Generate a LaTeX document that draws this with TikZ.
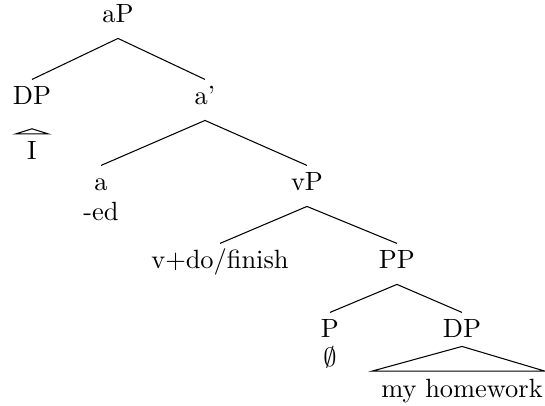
\documentclass[tikz,border=0pt]{standalone}
\usepackage{amsmath}
\usepackage{amssymb}
\usepackage{tikz}

\begin{document}
\begin{tikzpicture}[
        yscale=1.0, xscale=1.0,
        cat/.style={anchor=base, inner xsep=1pt, inner ysep=2.65pt, text height=6.83pt, text depth=3pt},
        word/.style={anchor=base, inner sep=1pt},
        branch/.style={line width=0.4pt},
        roof/.style={line width=0.4pt}
    ]
    \useasboundingbox (0,0) rectangle (7.256,5.405);

    % Categories
    \node[cat] (ap)   at (1.571, 5.099) {aP};
    \node[cat] (dpa)  at (0.426, 4.007) {DP};
    \node[cat] (abar) at (2.729, 4.007) {a'};
    \node[cat] (a)    at (1.345, 2.862) {a};
    \node[cat] (vp)   at (4.087, 2.862) {vP};
    \node[cat] (v)    at (2.929, 1.824) {v+do/finish};
    \node[cat] (pp)   at (5.285, 1.824) {PP};
    \node[cat] (p)    at (4.393, 0.905) {P};
    \node[cat] (dpb)  at (6.151, 0.905) {DP};

    % Words under the heads
    \node[word] (i)    at (0.426, 3.288) {I};
    \node[word] (ed)   at (1.345, 2.463) {-ed};
    \node[word] (null) at (4.393, 0.519) {$\emptyset$};
    \node[word] (hw)   at (6.151, 0.107) {my homework};

    % Branches
    \draw[branch] (ap.south) -- (dpa.north);
    \draw[branch] (ap.south) -- (abar.north);
    \draw[branch] (abar.south) -- (a.north);
    \draw[branch] (abar.south) -- (vp.north);
    \draw[branch] (vp.south) -- (v.north);
    \draw[branch] (vp.south) -- (pp.north);
    \draw[branch] (pp.south) -- (p.north);
    \draw[branch] (pp.south) -- (dpb.north);

    % Roofs
    \draw[roof] (i.north) ++(0,0.12) -- ++(-0.213,-0.067) -- ++(0.426,0) -- cycle;
    \draw[roof] ([yshift=2.65pt]dpb.south) -- ([xshift=-1.2cm,yshift=2pt]hw.north) -- ([xshift=1.105cm,yshift=2pt]hw.north) -- cycle;

\end{tikzpicture}
\end{document}
